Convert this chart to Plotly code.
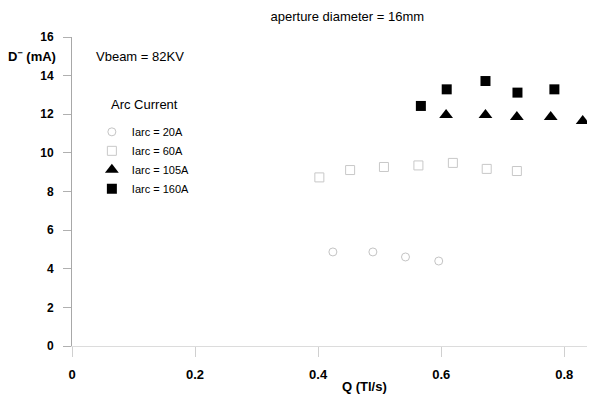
import plotly.graph_objects as go

# Data
q_20 = [0.424, 0.489, 0.542, 0.596]
d_20 = [4.87, 4.87, 4.61, 4.40]

q_60 = [0.402, 0.452, 0.507, 0.563, 0.619, 0.674, 0.723]
d_60 = [8.73, 9.11, 9.27, 9.35, 9.48, 9.17, 9.06]

q_105 = [0.608, 0.672, 0.723, 0.778, 0.830]
d_105 = [11.96, 11.96, 11.86, 11.86, 11.65]

q_160 = [0.567, 0.609, 0.672, 0.724, 0.784]
d_160 = [12.43, 13.29, 13.72, 13.12, 13.29]

x_ticks = [0, 0.2, 0.4, 0.6, 0.8]
x_tick_labels = ["0", "0.2", "0.4", "0.6", "0.8"]
y_ticks = [0, 2, 4, 6, 8, 10, 12, 14, 16]

FONT = "Liberation Sans, Arial, Helvetica, sans-serif"

fig = go.Figure()
fig.add_trace(go.Scatter(x=q_20, y=d_20, mode="markers", name="Iarc = 20A", cliponaxis=False,
                         marker=dict(symbol="circle-open", size=8, color="#c4c4c4",
                                     line=dict(width=1, color="#c4c4c4"))))
fig.add_trace(go.Scatter(x=q_60, y=d_60, mode="markers", name="Iarc = 60A", cliponaxis=False,
                         marker=dict(symbol="square-open", size=9, color="#c8c8c8",
                                     line=dict(width=1, color="#c8c8c8"))))
fig.add_trace(go.Scatter(x=q_105, y=d_105, mode="markers", name="Iarc = 105A", cliponaxis=False,
                         marker=dict(symbol="triangle-up", size=12, color="black")))
fig.add_trace(go.Scatter(x=q_160, y=d_160, mode="markers", name="Iarc = 160A", cliponaxis=False,
                         marker=dict(symbol="square", size=10, color="black")))

fig.update_layout(
    width=587, height=395,
    margin=dict(l=64, r=0, t=29, b=57),
    paper_bgcolor="white", plot_bgcolor="white",
    font=dict(family=FONT, color="black"),
    title=dict(text="aperture diameter = 16mm", x=0.578, xanchor="center",
               y=0.978, yanchor="middle", font=dict(size=13, family=FONT)),
    showlegend=True,
    legend=dict(x=0.038, y=0.74, xanchor="left", yanchor="top",
                bgcolor="rgba(0,0,0,0)", font=dict(size=11, family=FONT),
                itemwidth=30, tracegroupgap=0),
    xaxis=dict(range=[0, 0.850], tickvals=x_ticks, ticktext=x_tick_labels,
               showgrid=False, zeroline=False, showline=True, linecolor="#dcdcdc",
               linewidth=1, ticks="outside", ticklen=10, tickcolor="#d0d0d0",
               tickfont=dict(size=13, family=FONT, weight="bold"),
               ticklabelstandoff=6),
    yaxis=dict(range=[0, 16], tickvals=y_ticks, showgrid=False, zeroline=False,
               showline=True, linecolor="#a8a8a8", linewidth=1,
               ticks="outside", ticklen=8, tickcolor="#b0b0b0",
               tickfont=dict(size=12, family=FONT, weight="bold"),
               ticklabelstandoff=7),
    annotations=[
        dict(text="D<sup>−</sup> (mA)", xref="paper", yref="paper", x=-0.0765, y=0.937,
             xanchor="center", yanchor="middle", showarrow=False,
             font=dict(size=13, family=FONT, weight="bold")),
        dict(text="Vbeam = 82KV", xref="paper", yref="paper", x=0.130, y=0.937,
             xanchor="center", yanchor="middle", showarrow=False,
             font=dict(size=13, family=FONT)),
        dict(text="Arc Current", xref="paper", yref="paper", x=0.139, y=0.780,
             xanchor="center", yanchor="middle", showarrow=False,
             font=dict(size=13, family=FONT)),
        dict(text="Q (Tl/s)", xref="paper", yref="paper", x=0.56, y=-0.13,
             xanchor="center", yanchor="middle", showarrow=False,
             font=dict(size=13, family=FONT, weight="bold")),
    ],
)

fig.write_html("out.html")
